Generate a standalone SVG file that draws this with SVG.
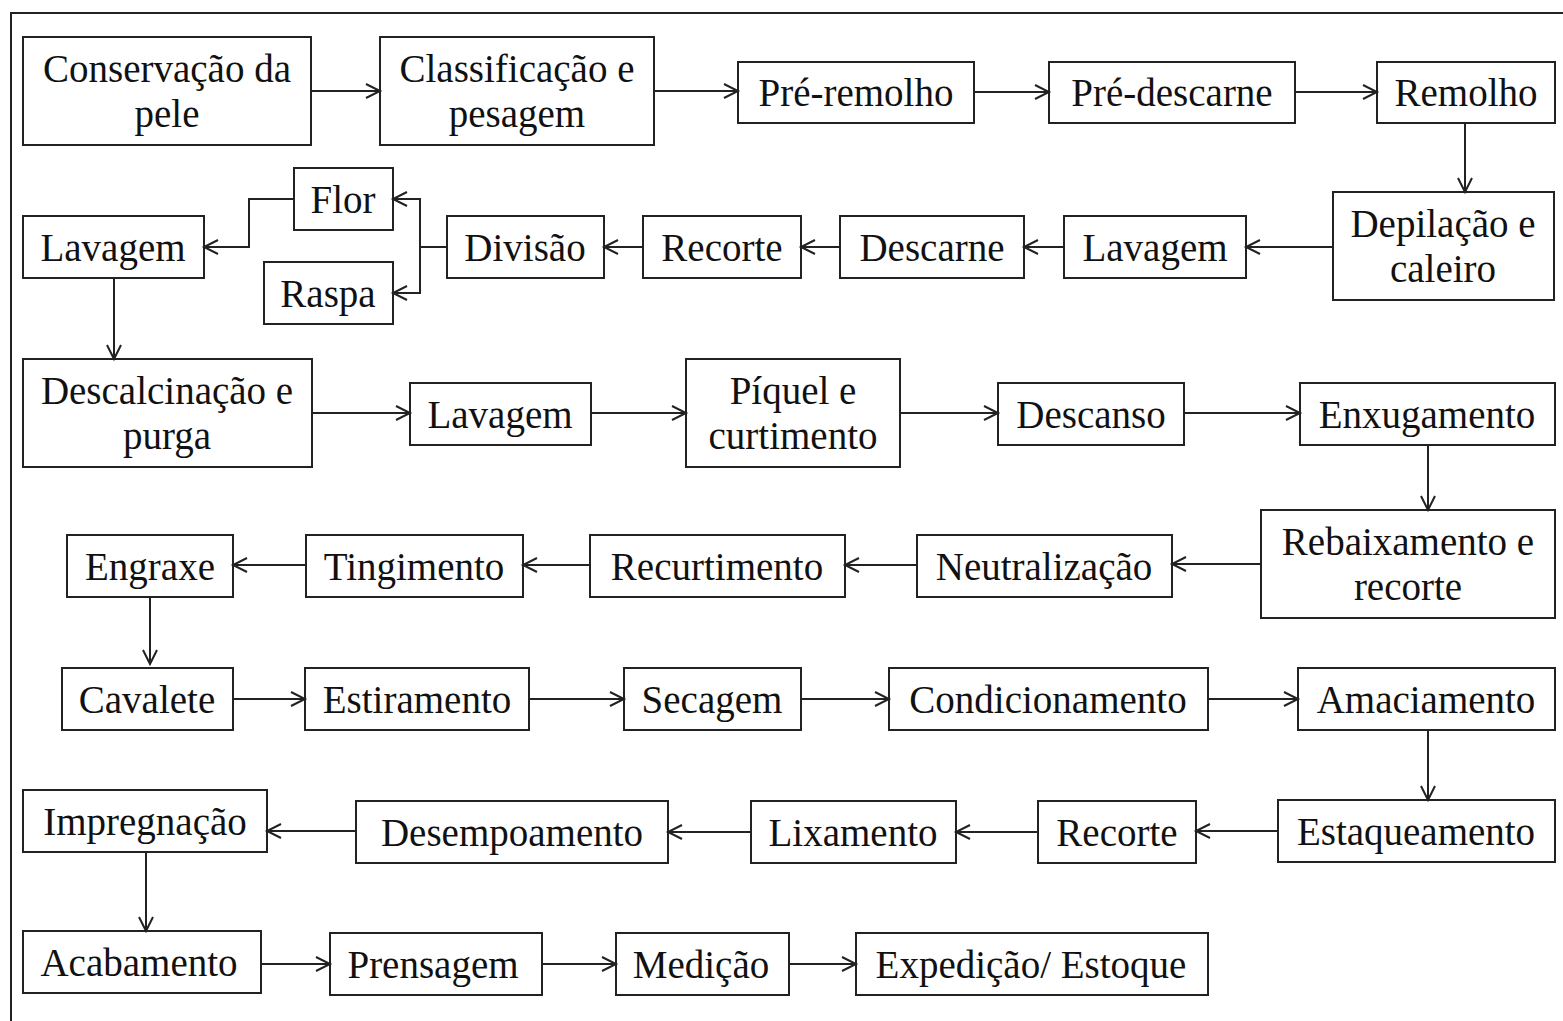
<svg xmlns="http://www.w3.org/2000/svg" width="1563" height="1021" viewBox="0 0 1563 1021">
<defs>
<marker id="ah" markerUnits="userSpaceOnUse" markerWidth="18" markerHeight="18" refX="15" refY="8" orient="auto">
<path d="M1,1 L15,8 L1,15" fill="none" stroke="#222" stroke-width="2"/>
</marker>
<style>
.b{fill:#fff;stroke:#222;stroke-width:2}
.t{font-family:"Liberation Serif","Times New Roman",serif;font-size:39px;fill:#111;text-anchor:middle}
.c line,.c polyline{stroke:#222;stroke-width:2;fill:none;marker-end:url(#ah)}
</style>
</defs>
<rect width="1563" height="1021" fill="#fff"/>
<rect x="11" y="13" width="1570" height="1030" fill="none" stroke="#222" stroke-width="2"/>

<g id="n1"><rect class="b" x="23" y="37" width="288" height="108"/><text class="t" x="167" y="82">Conservação da</text><text class="t" x="167" y="127">pele</text></g>
<g id="n2"><rect class="b" x="380" y="37" width="274" height="108"/><text class="t" x="517" y="82">Classificação e</text><text class="t" x="517" y="127">pesagem</text></g>
<g id="n3"><rect class="b" x="738" y="62" width="236" height="61"/><text class="t" x="856" y="106">Pré-remolho</text></g>
<g id="n4"><rect class="b" x="1049" y="62" width="246" height="61"/><text class="t" x="1172" y="106">Pré-descarne</text></g>
<g id="n5"><rect class="b" x="1377" y="62" width="178" height="61"/><text class="t" x="1466" y="106">Remolho</text></g>

<g id="n6"><rect class="b" x="1333" y="192" width="221" height="108"/><text class="t" x="1443" y="237">Depilação e</text><text class="t" x="1443" y="282">caleiro</text></g>
<g id="n7"><rect class="b" x="1064" y="216" width="182" height="62"/><text class="t" x="1155" y="261">Lavagem</text></g>
<g id="n8"><rect class="b" x="840" y="216" width="184" height="62"/><text class="t" x="932" y="261">Descarne</text></g>
<g id="n9"><rect class="b" x="643" y="216" width="158" height="62"/><text class="t" x="722" y="261">Recorte</text></g>
<g id="n10"><rect class="b" x="447" y="216" width="157" height="62"/><text class="t" x="525" y="261">Divisão</text></g>
<g id="n11"><rect class="b" x="294" y="168" width="99" height="62"/><text class="t" x="343" y="213">Flor</text></g>
<g id="n12"><rect class="b" x="264" y="262" width="129" height="62"/><text class="t" x="328" y="307">Raspa</text></g>
<g id="n13"><rect class="b" x="23" y="216" width="181" height="62"/><text class="t" x="113" y="261">Lavagem</text></g>

<g id="n14"><rect class="b" x="23" y="359" width="289" height="108"/><text class="t" x="167" y="404">Descalcinação e</text><text class="t" x="167" y="449">purga</text></g>
<g id="n15"><rect class="b" x="410" y="383" width="181" height="62"/><text class="t" x="500" y="428">Lavagem</text></g>
<g id="n16"><rect class="b" x="686" y="359" width="214" height="108"/><text class="t" x="793" y="404">Píquel e</text><text class="t" x="793" y="449">curtimento</text></g>
<g id="n17"><rect class="b" x="998" y="383" width="186" height="62"/><text class="t" x="1091" y="428">Descanso</text></g>
<g id="n18"><rect class="b" x="1300" y="383" width="255" height="62"/><text class="t" x="1427" y="428">Enxugamento</text></g>

<g id="n19"><rect class="b" x="1261" y="510" width="294" height="108"/><text class="t" x="1408" y="555">Rebaixamento e</text><text class="t" x="1408" y="600">recorte</text></g>
<g id="n20"><rect class="b" x="917" y="535" width="255" height="62"/><text class="t" x="1044" y="580">Neutralização</text></g>
<g id="n21"><rect class="b" x="590" y="535" width="255" height="62"/><text class="t" x="717" y="580">Recurtimento</text></g>
<g id="n22"><rect class="b" x="306" y="535" width="217" height="62"/><text class="t" x="414" y="580">Tingimento</text></g>
<g id="n23"><rect class="b" x="67" y="535" width="166" height="62"/><text class="t" x="150" y="580">Engraxe</text></g>

<g id="n24"><rect class="b" x="62" y="668" width="171" height="62"/><text class="t" x="147" y="713">Cavalete</text></g>
<g id="n25"><rect class="b" x="305" y="668" width="224" height="62"/><text class="t" x="417" y="713">Estiramento</text></g>
<g id="n26"><rect class="b" x="624" y="668" width="177" height="62"/><text class="t" x="712" y="713">Secagem</text></g>
<g id="n27"><rect class="b" x="889" y="668" width="319" height="62"/><text class="t" x="1048" y="713">Condicionamento</text></g>
<g id="n28"><rect class="b" x="1298" y="668" width="257" height="62"/><text class="t" x="1426" y="713">Amaciamento</text></g>

<g id="n29"><rect class="b" x="1278" y="800" width="277" height="62"/><text class="t" x="1416" y="845">Estaqueamento</text></g>
<g id="n30"><rect class="b" x="1038" y="801" width="158" height="62"/><text class="t" x="1117" y="846">Recorte</text></g>
<g id="n31"><rect class="b" x="751" y="801" width="205" height="62"/><text class="t" x="853" y="846">Lixamento</text></g>
<g id="n32"><rect class="b" x="356" y="801" width="312" height="62"/><text class="t" x="512" y="846">Desempoamento</text></g>
<g id="n33"><rect class="b" x="23" y="790" width="244" height="62"/><text class="t" x="145" y="835">Impregnação</text></g>

<g id="n34"><rect class="b" x="23" y="931" width="238" height="62"/><text class="t" x="139" y="976">Acabamento</text></g>
<g id="n35"><rect class="b" x="330" y="933" width="212" height="62"/><text class="t" x="433" y="978">Prensagem</text></g>
<g id="n36"><rect class="b" x="616" y="933" width="173" height="62"/><text class="t" x="701" y="978">Medição</text></g>
<g id="n37"><rect class="b" x="856" y="933" width="352" height="62"/><text class="t" x="1031" y="978">Expedição/ Estoque</text></g>

<g id="connectors" class="c">
<line x1="311" y1="91" x2="380" y2="91"/>
<line x1="654" y1="91" x2="738" y2="91"/>
<line x1="974" y1="92" x2="1049" y2="92"/>
<line x1="1295" y1="92" x2="1377" y2="92"/>
<line x1="1465" y1="123" x2="1465" y2="192"/>
<line x1="1333" y1="247" x2="1246" y2="247"/>
<line x1="1064" y1="247" x2="1024" y2="247"/>
<line x1="840" y1="247" x2="801" y2="247"/>
<line x1="643" y1="247" x2="604" y2="247"/>
<polyline points="447,247 420,247 420,199 393,199"/>
<polyline points="420,247 420,293 393,293"/>
<polyline points="294,199 249,199 249,247 204,247"/>
<line x1="114" y1="278" x2="114" y2="359"/>
<line x1="312" y1="413" x2="410" y2="413"/>
<line x1="591" y1="413" x2="686" y2="413"/>
<line x1="900" y1="413" x2="998" y2="413"/>
<line x1="1184" y1="413" x2="1300" y2="413"/>
<line x1="1428" y1="445" x2="1428" y2="510"/>
<line x1="1261" y1="564" x2="1172" y2="564"/>
<line x1="917" y1="565" x2="845" y2="565"/>
<line x1="590" y1="565" x2="523" y2="565"/>
<line x1="306" y1="565" x2="233" y2="565"/>
<line x1="150" y1="597" x2="150" y2="664"/>
<line x1="233" y1="699" x2="305" y2="699"/>
<line x1="529" y1="699" x2="624" y2="699"/>
<line x1="801" y1="699" x2="889" y2="699"/>
<line x1="1208" y1="699" x2="1298" y2="699"/>
<line x1="1428" y1="730" x2="1428" y2="800"/>
<line x1="1278" y1="831" x2="1196" y2="831"/>
<line x1="1038" y1="832" x2="956" y2="832"/>
<line x1="751" y1="832" x2="668" y2="832"/>
<line x1="356" y1="831" x2="267" y2="831"/>
<line x1="146" y1="852" x2="146" y2="931"/>
<line x1="261" y1="964" x2="330" y2="964"/>
<line x1="542" y1="964" x2="616" y2="964"/>
<line x1="789" y1="964" x2="856" y2="964"/>
</g>
</svg>
